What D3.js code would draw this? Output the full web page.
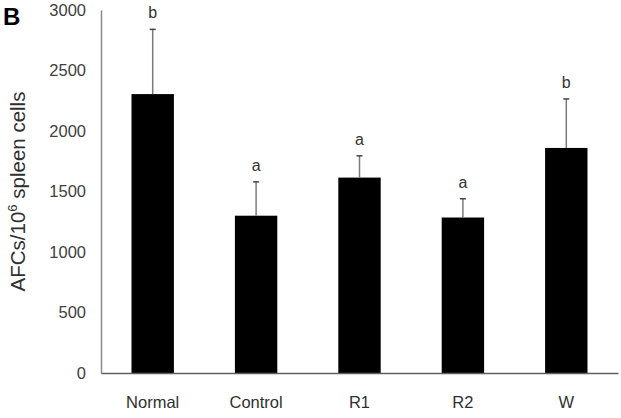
<!DOCTYPE html>
<html>
<head>
<meta charset="utf-8">
<script src="https://cdn.jsdelivr.net/npm/d3@7"></script>
<style>
  body { margin: 0; background: #fff; }
  text { font-family: "Liberation Sans", Arial, sans-serif; }
</style>
</head>
<body>
<div id="chart"></div>
<script>
// data
var groups = ["Normal", "Control", "R1", "R2", "W"];
var means = [2305, 1300, 1615, 1285, 1860];
var errUp = [535, 280, 180, 155, 405];
var letters = ["b", "a", "a", "a", "b"];
var yTicks = [0, 500, 1000, 1500, 2000, 2500, 3000];

var width = 621, height = 418;
var margin = { top: 10, right: 3, bottom: 45, left: 101 };

var svg = d3.select("#chart")
    .append("svg")
    .attr("width", width)
    .attr("height", height);

var x = d3.scaleBand()
    .domain(groups)
    .range([margin.left, width - margin.right])
    .paddingInner(0.59)
    .paddingOuter(0.295);

var y = d3.scaleLinear()
    .domain([0, 3000])
    .range([height - margin.bottom, margin.top]);

// y axis
var yAxis = svg.append("g")
    .attr("transform", "translate(" + margin.left + ",0)")
    .call(d3.axisLeft(y).tickValues(yTicks).tickFormat(d3.format("d")).tickSize(0).tickPadding(15));
yAxis.select(".domain").attr("stroke", "#8a8a8a").attr("stroke-width", 1.5);
yAxis.selectAll("text").attr("font-size", 16.5).attr("fill", "#404040");

// bars
svg.selectAll("rect.bar")
    .data(groups)
    .enter().append("rect")
    .attr("class", "bar")
    .attr("x", function (d) { return x(d); })
    .attr("width", x.bandwidth())
    .attr("y", function (d, i) { return y(means[i]); })
    .attr("height", function (d, i) { return y(0) - y(means[i]); })
    .attr("fill", "#000");

// error bars (upper only)
var eb = svg.append("g")
    .attr("stroke", "#7a7a7a")
    .attr("stroke-width", 1.5);
groups.forEach(function (g, i) {
    var cx = x(g) + x.bandwidth() / 2;
    eb.append("line")
        .attr("x1", cx).attr("x2", cx)
        .attr("y1", y(means[i])).attr("y2", y(means[i] + errUp[i]));
    eb.append("line")
        .attr("x1", cx - 3).attr("x2", cx + 3)
        .attr("y1", y(means[i] + errUp[i])).attr("y2", y(means[i] + errUp[i]))
        .attr("stroke", "#444");
    svg.append("text")
        .attr("x", cx)
        .attr("y", y(means[i] + errUp[i]) - 11)
        .attr("text-anchor", "middle")
        .attr("font-size", 16)
        .attr("fill", "#333")
        .text(letters[i]);
});

// x axis
var xAxis = svg.append("g")
    .attr("transform", "translate(0," + y(0) + ")")
    .call(d3.axisBottom(x).tickSize(0).tickPadding(23).tickSizeOuter(0));
xAxis.select(".domain").attr("stroke", "#606060").attr("stroke-width", 1.5);
xAxis.selectAll("text").attr("font-size", 16.5).attr("fill", "#303030");

// y label
var yl = svg.append("text")
    .attr("transform", "translate(25," + y(1500) + ") rotate(-90)")
    .attr("text-anchor", "middle")
    .attr("font-size", 20.5)
    .attr("fill", "#303030");
yl.append("tspan").text("AFCs/10");
yl.append("tspan").attr("dy", -8).attr("font-size", 13).text("6");
yl.append("tspan").attr("dy", 8).text(" spleen cells");

// panel letter
svg.append("text")
    .attr("x", 3)
    .attr("y", 25)
    .attr("font-size", 24)
    .attr("font-weight", "bold")
    .attr("fill", "#000")
    .text("B");
</script>
</body>
</html>
